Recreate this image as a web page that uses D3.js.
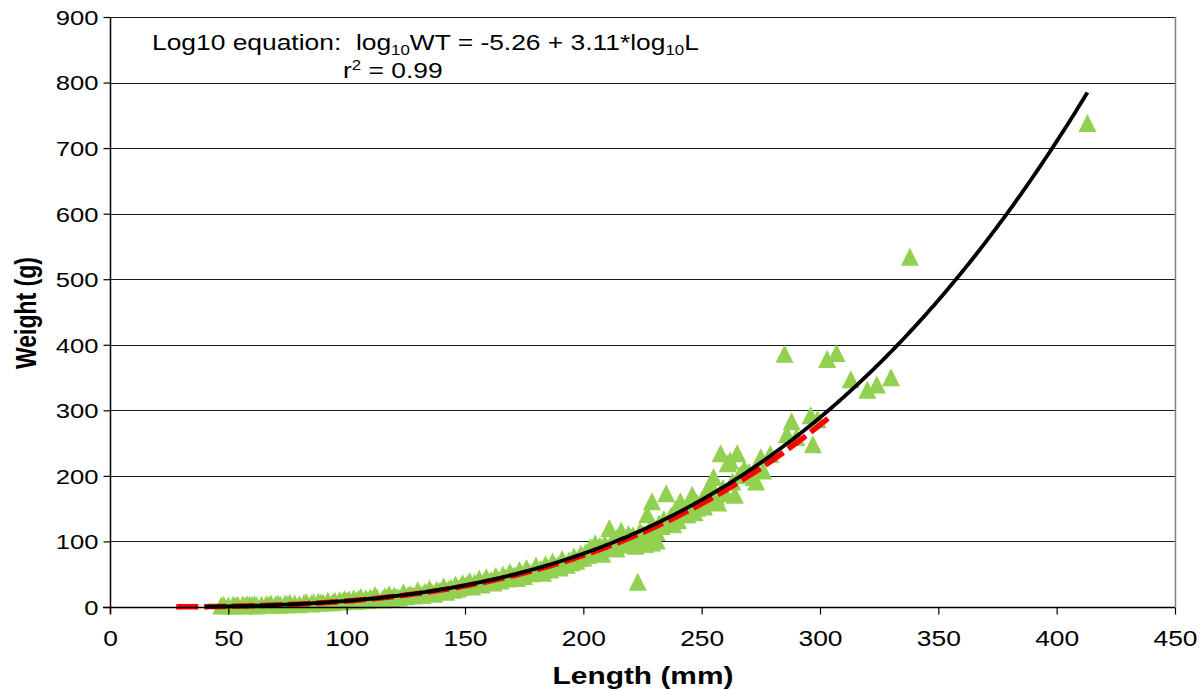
<!DOCTYPE html>
<html>
<head>
<meta charset="utf-8">
<script src="https://cdn.jsdelivr.net/npm/d3@7"></script>
<style>
  body { margin: 0; background: #fff; }
  svg { display: block; font-family: Arial, "Liberation Sans", sans-serif; }
</style>
</head>
<body>
<div id="chart"></div>
<script>
var lengthMm = [
  47,48,50,52,53,54,56,57,58,59,60,61,62,64,66,67,68,70,71,72,74,75,76,78,80,82,83,85,86,88,89,90,92,94,95,97,98,99,100,
  101,103,104,105,106,108,109,110,111,112,113,115,116,117,118,119,120,121,122,124,125,126,127,128,130,131,132,133,134,135,136,137,138,139,140,141,142,143,144,145,146,147,148,149,150,
  151,152,153,154,155,156,157,158,159,160,161,162,163,164,165,166,167,168,169,170,171,172,173,174,175,176,177,178,179,180,181,182,183,184,185,186,187,188,189,190,191,192,193,194,195,196,197,198,199,200,
  201,202,203,204,205,206,207,208,209,210,211,212,213,214,215,216,217,218,219,220,221,222,223,224,225,226,227,228,229,230,231,232,233,234,235,236,237,238,239,240,241,242,243,244,245,246,247,248,249,250,
  226,229,231,214,238,244,248,222,
  251,252,253,254,255,256,257,258,259,260,261,262,263,264,265,266,268,270,272,273,275,276,279,285,286,288,290,296,297,299,303,307,313,320,324,330,338,413
];
var weightG = [
  1,2,1,2,1,2,2,1,3,2,2,3,1,2,3,2,4,3,4,2,4,3,5,4,3,5,6,4,6,7,5,6,8,6,8,9,7,11,8,
  10,12,8,11,14,12,9,13,11,17,12,10,15,13,18,12,16,14,13,21,15,17,18,16,24,19,17,22,20,27,21,19,25,23,24,30,22,26,28,25,33,27,29,35,31,
  34,38,30,36,35,42,33,38,44,37,40,36,46,41,39,48,44,42,52,45,47,43,55,49,46,58,52,50,54,62,53,57,51,64,58,56,68,60,62,59,72,65,63,70,67,76,69,73,80,74,
  82,78,90,84,96,86,92,80,95,89,119,98,92,104,96,115,100,94,110,105,108,102,37,114,110,95,140,118,160,120,113,126,122,133,172,128,138,134,148,131,160,146,140,152,147,170,143,158,153,162,
  95,97,100,88,125,140,150,92,
  152,175,160,185,197,168,158,233,180,172,218,222,190,170,233,200,210,205,197,190,227,207,232,385,262,282,258,291,247,285,377,386,346,330,338,349,533,737
];

// log10 fit as printed (red) and the drawn trend line (black)
var printedFit = [-5.26, 3.11];
var printedRange = [28, 305];
var trendFit = [-5.28, 3.125];
var trendRange = [40, 413];

var xTicks = [0, 50, 100, 150, 200, 250, 300, 350, 400, 450];
var yTicks = [0, 100, 200, 300, 400, 500, 600, 700, 800, 900];

function init() {
    var w = 1203, h = 689;
    var left = 110, right = 1175, top = 17, bottom = 607;

    var x = d3.scaleLinear().domain([0, 450]).range([left, right]);
    var y = d3.scaleLinear().domain([0, 900]).range([bottom, top]);

    var svg = d3.select("#chart").append("svg")
        .attr("width", w)
        .attr("height", h);

    // horizontal gridlines
    svg.append("g")
        .selectAll("line")
        .data(yTicks.slice(1))
        .enter()
        .append("line")
        .attr("x1", left)
        .attr("x2", right)
        .attr("y1", function(d) { return Math.round(y(d)) + 0.5; })
        .attr("y2", function(d) { return Math.round(y(d)) + 0.5; })
        .attr("stroke", "#1a1a1a")
        .attr("stroke-width", 1.2);

    // right border of plot area
    svg.append("line")
        .attr("x1", right + 0.5).attr("x2", right + 0.5)
        .attr("y1", top).attr("y2", bottom)
        .attr("stroke", "#808080")
        .attr("stroke-width", 1.5);

    // points: Excel-style triangle, a bit taller than equilateral
    var excelTriangle = {
        draw: function(context, size) {
            var s = Math.sqrt(size);
            context.moveTo(0, -0.55 * s);
            context.lineTo(0.5 * s, 0.45 * s);
            context.lineTo(-0.5 * s, 0.45 * s);
            context.closePath();
        }
    };
    var tri = d3.symbol().type(excelTriangle).size(18 * 18);
    svg.append("g")
        .selectAll("path")
        .data(lengthMm.map(function(l, i) { return [l, weightG[i]]; }))
        .enter()
        .append("path")
        .attr("d", tri)
        .attr("transform", function(d) { return "translate(" + x(d[0]) + "," + y(d[1]) + ")"; })
        .attr("fill", "#92D050");

    function fitLine(fit, range) {
        return d3.range(range[0], range[1] + 0.5, 1).map(function(l) {
            return [l, Math.pow(10, fit[0] + fit[1] * Math.log10(l))];
        });
    }
    var line = d3.line()
        .x(function(d) { return x(d[0]); })
        .y(function(d) { return y(d[1]); });

    svg.append("path")
        .attr("d", line(fitLine(printedFit, printedRange)))
        .attr("fill", "none")
        .attr("stroke", "#ff0000")
        .attr("stroke-width", 5.5)
        .attr("stroke-dasharray", "22,6");

    svg.append("path")
        .attr("d", line(fitLine(trendFit, trendRange)))
        .attr("fill", "none")
        .attr("stroke", "#000")
        .attr("stroke-width", 3.8);

    // axes
    var xAxis = d3.axisBottom(x).tickValues(xTicks).tickSize(7).tickSizeOuter(0);
    var gx = svg.append("g")
        .attr("transform", "translate(0," + (bottom + 0.5) + ")")
        .call(xAxis);
    gx.select(".domain").attr("stroke", "#000").attr("stroke-width", 1.5)
        .attr("d", "M" + (left - 7) + ",0H" + right);
    gx.selectAll(".tick line").attr("stroke", "#000").attr("stroke-width", 1.2);
    gx.selectAll(".tick text")
        .attr("y", 0).attr("dy", 0)
        .attr("transform", "translate(0,38) scale(1.2,1)")
        .attr("font-size", 22)
        .attr("fill", "#000");

    var yAxis = d3.axisLeft(y).tickValues(yTicks).tickSize(7).tickSizeOuter(0);
    var gy = svg.append("g")
        .attr("transform", "translate(" + (left + 0.5) + ",0)")
        .call(yAxis);
    gy.select(".domain").attr("stroke", "#000").attr("stroke-width", 1.5)
        .attr("d", "M0," + top + "V" + (bottom + 7));
    gy.selectAll(".tick line").attr("stroke", "#000").attr("stroke-width", 1.2);
    gy.selectAll(".tick text")
        .attr("x", 0).attr("dy", "0.35em")
        .attr("transform", "translate(-12,0) scale(1.22,1)")
        .attr("font-size", 21)
        .attr("fill", "#000");

    // axis titles
    svg.append("text")
        .attr("transform", "translate(643,684) scale(1.3,1)")
        .attr("text-anchor", "middle")
        .attr("font-size", 23)
        .attr("font-weight", "bold")
        .text("Length (mm)");

    svg.append("text")
        .attr("transform", "translate(36,313) rotate(-90) scale(1,1.25)")
        .attr("text-anchor", "middle")
        .attr("font-size", 23)
        .attr("font-weight", "bold")
        .text("Weight (g)");

    // equation box
    var eq = svg.append("text")
        .attr("transform", "translate(152,50) scale(1.2,1)")
        .attr("font-size", 22);
    eq.append("tspan").text("Log10 equation:\u00a0\u00a0log");
    eq.append("tspan").attr("font-size", 14).attr("dy", 5).text("10");
    eq.append("tspan").attr("dy", -5).text("WT = -5.26 + 3.11*log");
    eq.append("tspan").attr("font-size", 14).attr("dy", 5).text("10");
    eq.append("tspan").attr("dy", -5).text("L");

    var r2 = svg.append("text")
        .attr("transform", "translate(343,78) scale(1.2,1)")
        .attr("font-size", 22);
    r2.append("tspan").text("r");
    r2.append("tspan").attr("font-size", 14).attr("dy", -8).text("2");
    r2.append("tspan").attr("dy", 8).text(" = 0.99");
}
window.onload = init;
</script>
</body>
</html>
